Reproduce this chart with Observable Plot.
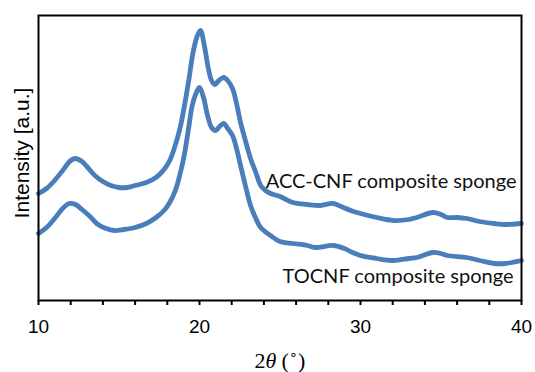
<!DOCTYPE html>
<html>
<head>
<meta charset="utf-8">
<script src="https://cdn.jsdelivr.net/npm/d3@7"></script>
<script src="https://cdn.jsdelivr.net/npm/@observablehq/plot@0.6"></script>
<style>
  html, body { margin: 0; padding: 0; background: #fff; }
  #chart { width: 535px; height: 372px; }
</style>
</head>
<body>
<div id="chart"></div>
<script>
// 2θ (degrees) and intensity (arbitrary units)
const accTheta = [10.0, 10.5, 11.0, 11.5, 12.0, 12.3, 12.7, 13.0, 13.5, 14.0, 14.5, 15.0, 15.5, 16.0, 16.7, 17.3, 17.8, 18.15, 18.45, 18.8, 19.1, 19.35, 19.6, 19.85, 20.06, 20.3, 20.55, 20.75, 20.95, 21.2, 21.5, 21.75, 22.05, 22.3, 22.55, 22.85, 23.17, 23.5, 23.8, 24.1, 24.41, 25.0, 25.8, 26.7, 27.5, 28.3, 28.8, 29.4, 30.0, 31.0, 32.05, 33.0, 33.5, 34.5, 35.0, 35.4, 36.0, 36.6, 37.4, 38.3, 39.0, 40.0];
const accIntensity = [107, 112, 120, 130, 140, 142, 139, 134, 125, 119, 115, 113, 113, 115, 118, 123, 131, 140, 153, 173, 198, 222, 248, 264, 270, 255, 232, 220, 216, 220, 223, 220, 212, 197, 178, 160, 142, 128, 115, 110, 107, 104, 98, 96, 95, 97, 94, 90, 87, 83, 80, 81, 83, 88, 86, 83, 83, 82, 79, 77, 76, 77];

const tocnfTheta = [10.0, 10.5, 11.0, 11.5, 11.9, 12.3, 12.7, 13.2, 13.7, 14.2, 14.7, 15.3, 16.0, 16.7, 17.3, 17.8, 18.15, 18.5, 18.8, 19.05, 19.32, 19.55, 19.78, 20.0, 20.25, 20.5, 20.75, 21.0, 21.25, 21.5, 21.75, 22.05, 22.3, 22.55, 22.85, 23.17, 23.5, 23.8, 24.41, 25.0, 25.8, 26.7, 27.2, 28.3, 29.0, 29.5, 30.0, 31.0, 32.05, 33.0, 33.5, 34.5, 35.0, 35.4, 36.6, 37.4, 38.3, 39.0, 40.0];
const tocnfIntensity = [67, 73, 82, 92, 97, 96, 91, 84, 76, 72, 70, 71, 73, 77, 83, 90, 98, 110, 127, 145, 172, 195, 207, 213, 203, 185, 173, 170, 174, 177, 172, 165, 152, 135, 115, 95, 82, 73, 65, 59, 57, 55, 53, 55, 52, 48, 45, 42, 40, 42, 43, 48, 47, 45, 43, 40, 37, 37, 40];

const seriesNames = ["ACC-CNF composite sponge", "TOCNF composite sponge"];
const xTicks = [10, 12, 14, 16, 18, 20, 22, 24, 26, 28, 30, 32, 34, 36, 38, 40];
const xTickLabels = [10, 20, 30, 40];
const yLabel = "Intensity [a.u.]";
const xLabel = "2θ (˚)";

const accData = accTheta.map((t, k) => ({t, v: accIntensity[k]}));
const tocnfData = tocnfTheta.map((t, k) => ({t, v: tocnfIntensity[k]}));

const blue = "#4a7ebb";

const plot = Plot.plot({
  width: 535,
  height: 372,
  marginLeft: 38,
  marginRight: 14,
  marginTop: 15,
  marginBottom: 72,
  style: {fontFamily: "'Liberation Sans', Arial, sans-serif", fontSize: "19px", color: "#000", background: "#fff"},
  x: {domain: [10, 40]},
  y: {domain: [0, 285], axis: null},
  marks: [
    Plot.line(accData, {x: "t", y: "v", stroke: blue, strokeWidth: 4.8, curve: "catmull-rom"}),
    Plot.line(tocnfData, {x: "t", y: "v", stroke: blue, strokeWidth: 4.8, curve: "catmull-rom"}),
    Plot.text([seriesNames[0]], {x: 40, y: 119, text: d => d, textAnchor: "end", dx: -5, fontSize: 20, fontFamily: "Lato, 'Open Sans', sans-serif", fill: "#111"}),
    Plot.text([seriesNames[1]], {x: 40, y: 24, text: d => d, textAnchor: "end", dx: -8, fontSize: 20, fontFamily: "Lato, 'Open Sans', sans-serif", fill: "#111"}),
    Plot.frame({stroke: "#000", strokeWidth: 2}),
    Plot.axisX({ticks: xTicks, tickFormat: d => xTickLabels.includes(d) ? String(d) : "", tickSize: 5, tickPadding: 14, strokeWidth: 2, fontSize: 19, label: null}),
    Plot.text([yLabel], {frameAnchor: "left", text: d => d, rotate: -90, textAnchor: "middle", dx: -16, dy: -5, fontSize: 21}),
    Plot.text([xLabel], {frameAnchor: "bottom", text: d => d, dy: 67, fontSize: 22, fontFamily: "'Liberation Serif', 'Times New Roman', serif"})
  ]
});

// italicize θ in the x-axis label
d3.select(plot).selectAll("text").filter(function() { return this.textContent === xLabel; }).each(function() {
  const t = d3.select(this);
  t.text(null);
  t.append("tspan").text("2");
  t.append("tspan").attr("font-style", "italic").text("θ");
  t.append("tspan").attr("dx", 5).text("(");
  t.append("tspan").attr("dx", 1).text("˚");
  t.append("tspan").attr("dx", 1).text(")");
});

document.getElementById("chart").appendChild(plot);
</script>
</body>
</html>
